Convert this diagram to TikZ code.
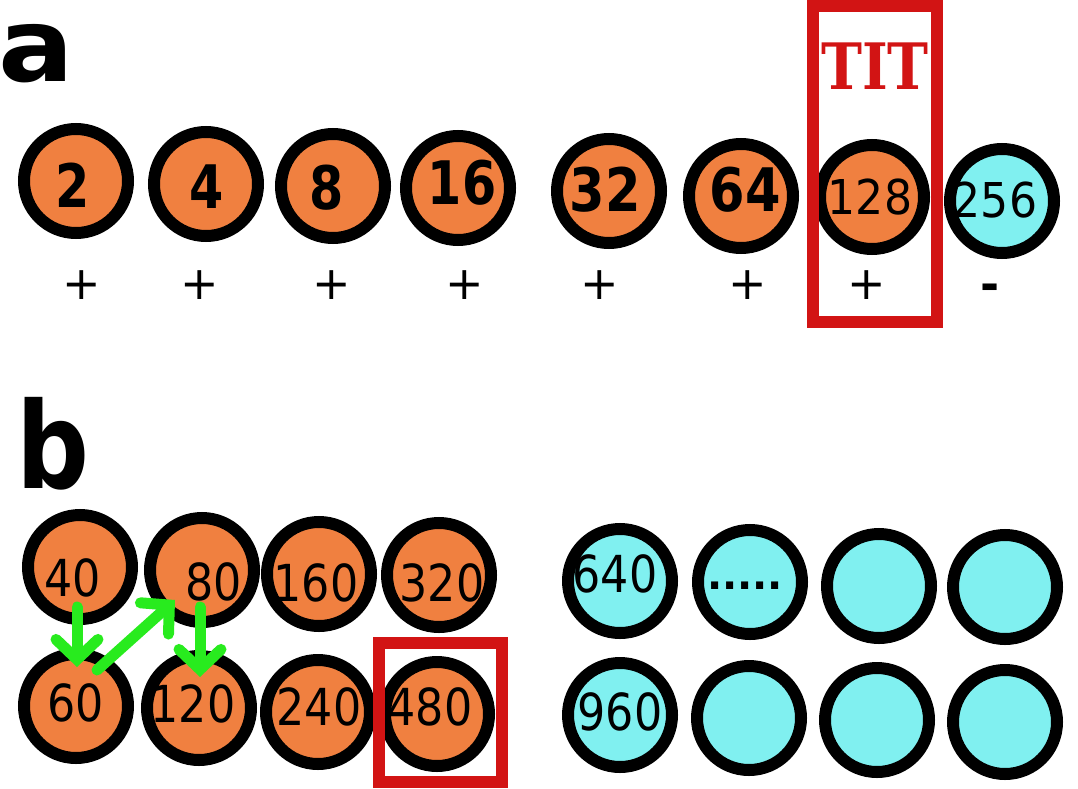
\documentclass[tikz,border=0pt]{standalone}
\usepackage{fontspec}
\setmainfont{DejaVu Sans}
\newfontfamily\titfont{DejaVu Serif}
\usepackage{tikz}
\usetikzlibrary{arrows.meta,calc}
\definecolor{ballorange}{RGB}{240,128,64}
\definecolor{ballcyan}{RGB}{128,240,240}
\definecolor{boxred}{RGB}{210,20,20}
\definecolor{flipgreen}{RGB}{40,235,30}
\newcommand{\slim}[2]{\scalebox{#1}[1]{#2}}

\begin{document}
\begin{tikzpicture}[x=1pt, y=-1pt,
  ball/.style={circle, draw=black, line width=12pt, minimum size=104pt, inner sep=0pt, fill=ballorange},
  coldball/.style={ball, fill=ballcyan},
  bignum/.style={font=\fontsize{60}{60}\selectfont\bfseries, inner sep=0pt},
  smallnum/.style={font=\fontsize{48}{48}\selectfont, inner sep=0pt},
  midnum/.style={font=\fontsize{51}{51}\selectfont, inner sep=0pt},
  sign/.style={font=\fontsize{46}{46}\selectfont, inner sep=0pt},
  redbox/.style={draw=boxred, line width=12pt},
  flip/.style={draw=flipgreen, line width=11pt, line cap=round, -{Straight Barb[length=20pt, width=42pt, line cap=round]}},
  panel/.style={font=\fontsize{120}{120}\selectfont\bfseries, inner sep=0pt, anchor=base west}]
  \useasboundingbox (0,0) rectangle (1078,789);

  % Panel a
  \node[panel, font=\fontsize{102}{102}\selectfont\bfseries] (pa) at (-2,82) {\slim{1.1}{a}};
  \node[ball] (c2) at (76,181) {};
  \node[ball] (c4) at (206,184) {};
  \node[ball] (c8) at (333,186) {};
  \node[ball] (c16) at (458,188) {};
  \node[ball] (c32) at (609,191) {};
  \node[ball] (c64) at (741,196) {};
  \node[ball] (c128) at (872,197) {};
  \node[coldball] (c256) at (1002,201) {};

  \node[bignum] (n2) at (73,185) {\slim{0.82}{2}};
  \node[bignum] (n4) at (207,187) {\slim{0.82}{4}};
  \node[bignum] (n8) at (327,188) {\slim{0.82}{8}};
  \node[bignum] (n16) at (462,183) {\slim{0.82}{16}};
  \node[bignum] (n32) at (605,190) {\slim{0.85}{32}};
  \node[bignum] (n64) at (745,190) {\slim{0.85}{64}};
  \node[smallnum] (n128) at (870,197) {\slim{0.92}{128}};
  \node[smallnum] (n256) at (995,200) {\slim{0.92}{256}};

  % Signs
  \node[sign] (s2) at (82,285) {+};
  \node[sign] (s4) at (200,285) {+};
  \node[sign] (s8) at (332,285) {+};
  \node[sign] (s16) at (465,285) {+};
  \node[sign] (s32) at (600,285) {+};
  \node[sign] (s64) at (748,285) {+};
  \node[sign] (s128) at (867,285) {+};
  \node[sign, font=\fontsize{46}{46}\selectfont\bfseries] (s256) at (990,292) {-};

  \draw[redbox] (813,6) rectangle (937,322);
  \node[text=boxred, inner sep=0pt, font=\fontsize{64}{64}\titfont\bfseries] (tit) at (875,66) {\slim{0.86}{TIT}};

  % Panel b
  \node[panel] (pb) at (16,488) {\slim{0.85}{b}};
  \node[ball] (c40) at (80,567) {};
  \node[ball] (c80) at (202,570) {};
  \node[ball] (c160) at (319,574) {};
  \node[ball] (c320) at (439,575) {};
  \node[coldball] (c640) at (620,581) {};
  \node[coldball] (cdots) at (750,582) {};
  \node[coldball] (cr1) at (879,586) {};
  \node[coldball] (cr2) at (1005,587) {};
  \node[ball] (c60) at (76,706) {};
  \node[ball] (c120) at (199,708) {};
  \node[ball] (c240) at (318,712) {};
  \node[ball] (c480) at (437,714) {};
  \node[coldball] (c960) at (620,715) {};
  \node[coldball] (cs1) at (749,718) {};
  \node[coldball] (cs2) at (877,720) {};
  \node[coldball] (cs3) at (1005,722) {};

  \node[midnum] (n40) at (73,578) {\slim{0.87}{40}};
  \node[midnum] (n80) at (214,582) {\slim{0.87}{80}};
  \node[midnum] (n160) at (316,583) {\slim{0.87}{160}};
  \node[midnum] (n320) at (442,583) {\slim{0.87}{320}};
  \node[midnum] (n640) at (615,574) {\slim{0.87}{640}};
  \node[inner sep=0pt, font=\fontsize{40}{40}\selectfont\bfseries] (ndots) at (745,586) {\slim{1.0}{.....}};
  \node[midnum] (n60) at (76,703) {\slim{0.87}{60}};
  \node[midnum] (n120) at (193,704) {\slim{0.87}{120}};
  \node[midnum] (n240) at (319,707) {\slim{0.87}{240}};
  \node[midnum] (n480) at (430,707) {\slim{0.87}{480}};
  \node[midnum] (n960) at (620,712) {\slim{0.87}{960}};

  % Flips
  \draw[flip] ($(c40)+(-3,40)$) -- ($(c60)+(1,-39)$);
  \draw[flip] ($(c60)+(21,-36)$) -- ($(c80)+(-27,30)$);
  \draw[flip] ($(c80)+(-2,37)$) -- ($(c120)+(1,-31)$);

  \draw[redbox] (379,643) rectangle (502,782);
\end{tikzpicture}
\end{document}
